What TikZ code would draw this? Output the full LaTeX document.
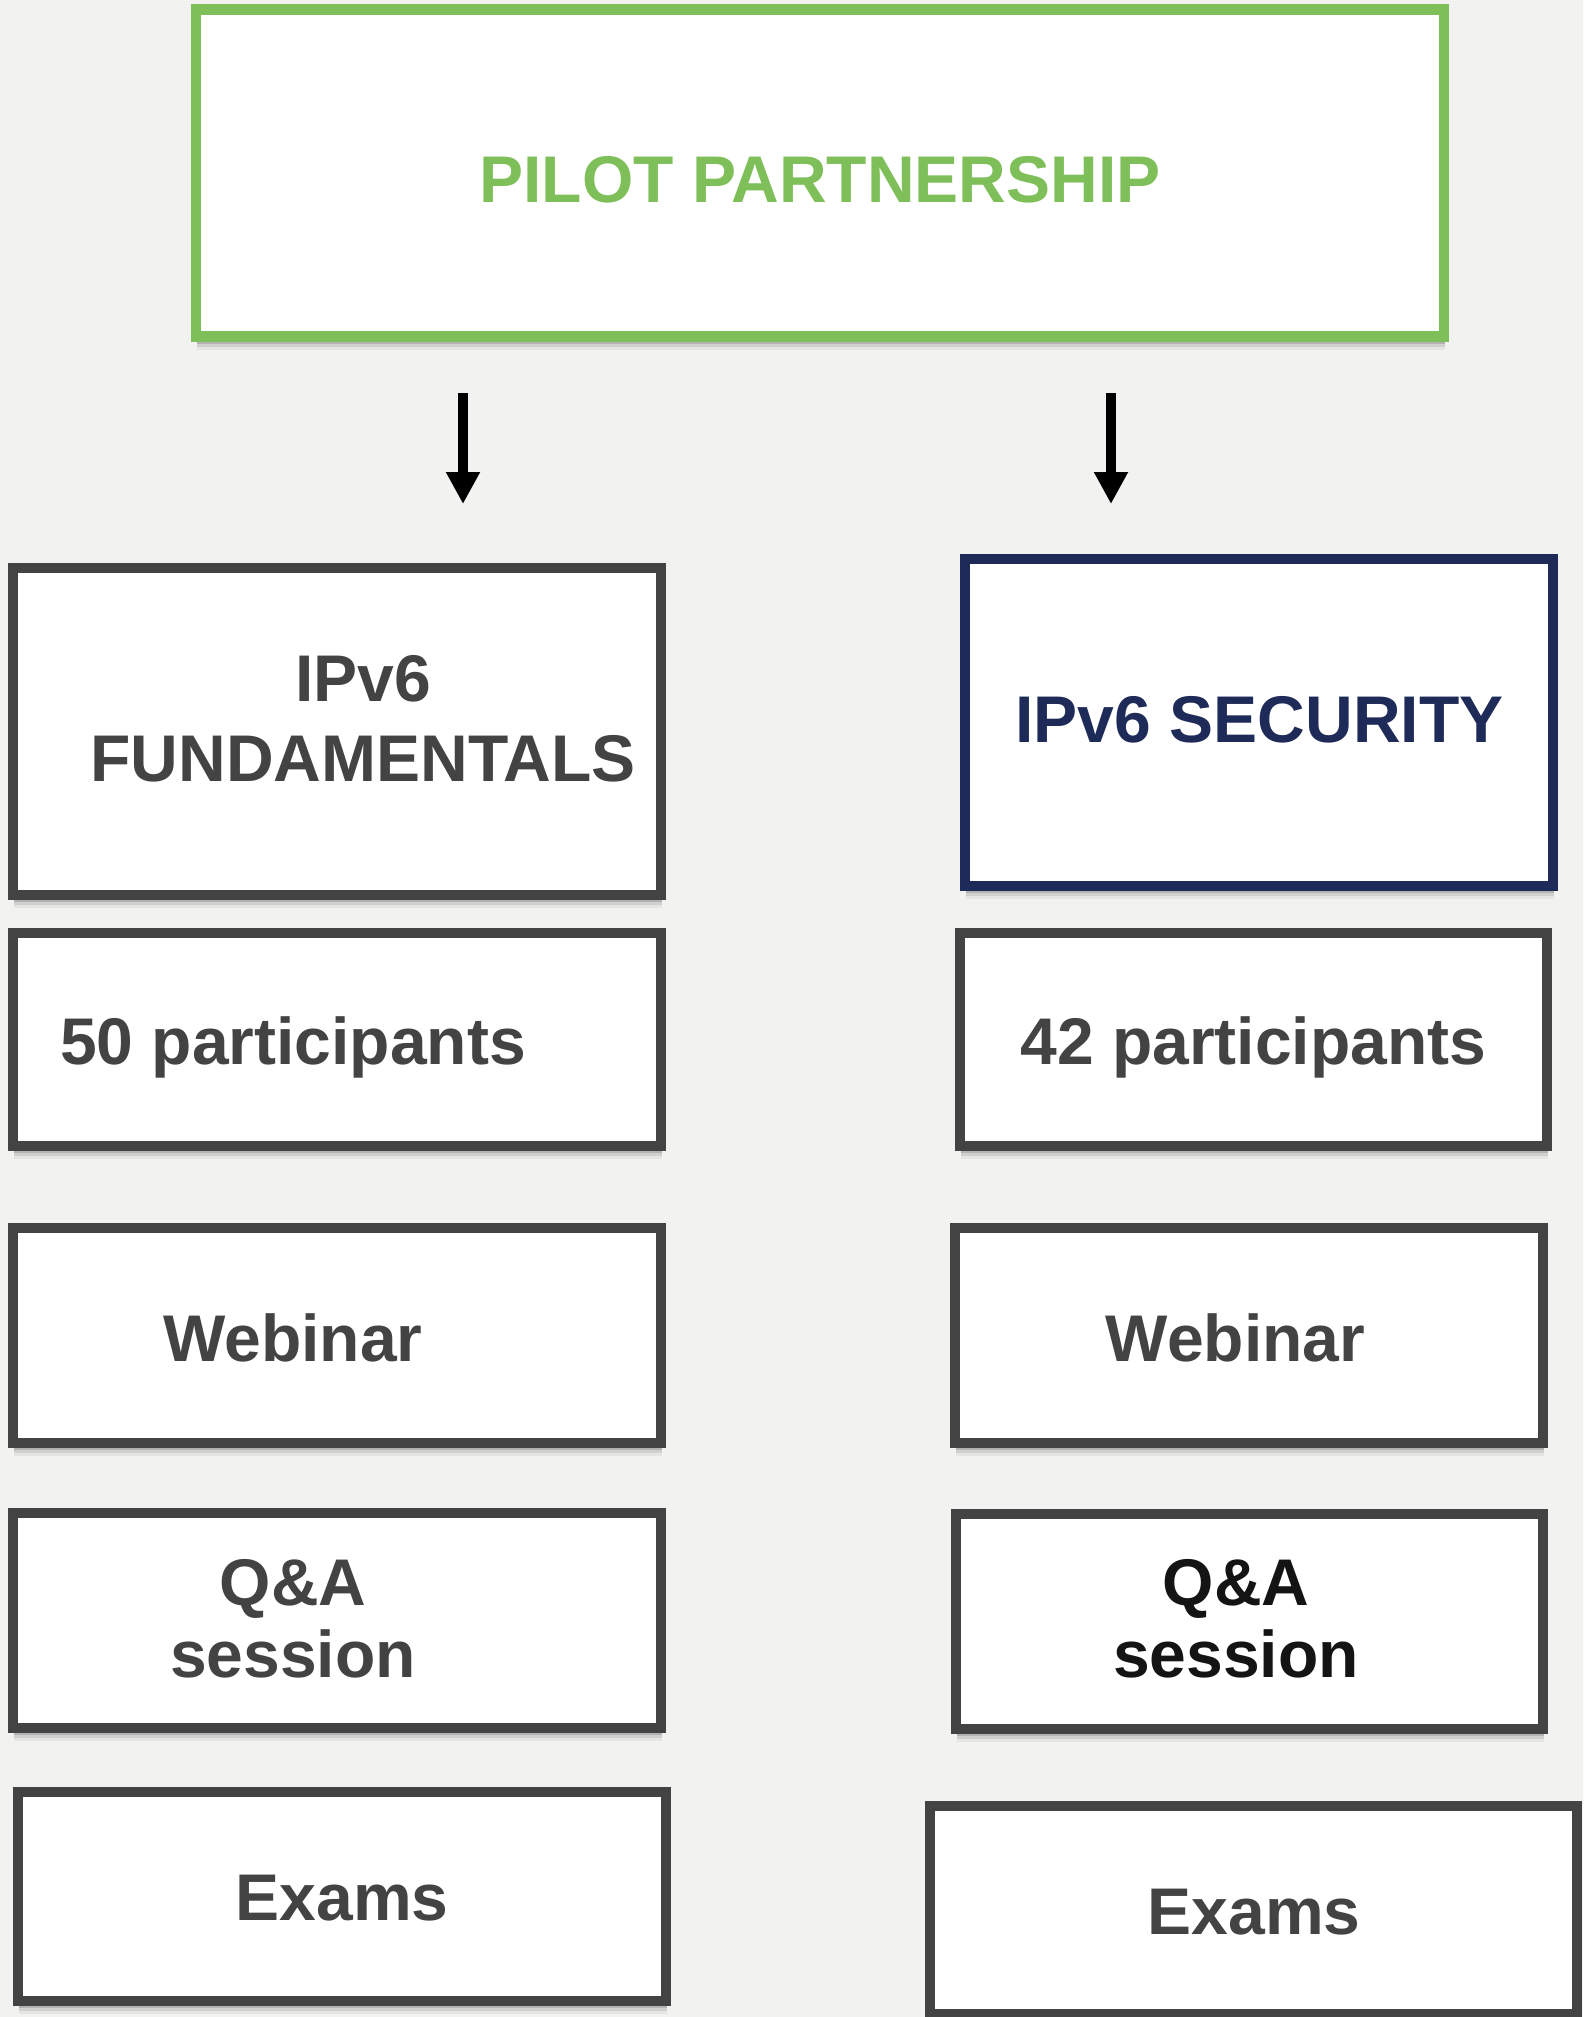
\documentclass[tikz,border=0pt]{standalone}
\usepackage{fontspec}
\setmainfont{Liberation Sans}
\usetikzlibrary{arrows.meta,shadows}
\definecolor{bgc}{HTML}{F2F2F0}
\definecolor{grn}{HTML}{7FBF59}
\definecolor{dg}{HTML}{434343}
\definecolor{navy}{HTML}{1E2A57}
\definecolor{blk}{HTML}{141414}
\begin{document}
\begin{tikzpicture}[x=1pt,y=-1pt,
  box/.style={draw=dg, fill=white, line width=10.5pt, rectangle, inner sep=0pt,
    drop shadow={shadow xshift=1pt, shadow yshift=-7pt, opacity=0.14, fill=black},
    drop shadow={shadow xshift=1pt, shadow yshift=-10pt, opacity=0.09, fill=black},
    drop shadow={shadow xshift=1pt, shadow yshift=-13pt, opacity=0.05, fill=black}},
  lbl/.style={font=\bfseries\fontsize{66}{80}\selectfont, text=dg, anchor=base, align=center, inner sep=0pt},
  arr/.style={line width=10pt, draw=black, -{Triangle[length=32pt,width=32pt]}}]
\useasboundingbox (0,0) rectangle (1583,2017);
\fill[bgc] (0,0) rectangle (1583,2017);

% boxes
\node[box, draw=grn, minimum width=1248pt, minimum height=327pt] (top) at (820,173) {};
\node[box, minimum width=648pt, minimum height=327pt] (fund) at (337,731.5) {};
\node[box, draw=navy, minimum width=588pt, minimum height=327pt] (sec) at (1259,722.5) {};
\node[box, minimum width=648pt, minimum height=213pt] (p50) at (337,1039.5) {};
\node[box, minimum width=587pt, minimum height=213pt] (p42) at (1253.5,1039.5) {};
\node[box, minimum width=648pt, minimum height=215pt] (web1) at (337,1335.5) {};
\node[box, minimum width=588pt, minimum height=215pt] (web2) at (1249,1335.5) {};
\node[box, minimum width=648pt, minimum height=215pt] (qa1) at (337,1620.5) {};
\node[box, minimum width=587pt, minimum height=215pt] (qa2) at (1249.5,1621.5) {};
\node[box, minimum width=648pt, minimum height=209pt] (ex1) at (342,1896.5) {};
\node[box, minimum width=647pt, minimum height=208pt] (ex2) at (1253.5,1910) {};

% texts (base anchor of a two-line node = baseline of its last line)
\node[lbl, text=grn] (toptxt) at (820,203) {PILOT PARTNERSHIP};
\node[lbl] (fundtxt) at (363,781) {IPv6\\FUNDAMENTALS};
\node[lbl, text=navy] (sectxt) at (1259.5,742) {IPv6 SECURITY};
\node[lbl] (p50txt) at (293,1064) {50 participants};
\node[lbl] (p42txt) at (1253.5,1064) {42 participants};
\node[lbl] (web1txt) at (293,1361.5) {Webinar};
\node[lbl] (web2txt) at (1235.5,1361) {Webinar};
\node[lbl, font=\bfseries\fontsize{66}{72}\selectfont] (qa1txt) at (293,1677) {Q\&A\\session};
\node[lbl, text=blk, font=\bfseries\fontsize{66}{72}\selectfont] (qa2txt) at (1236,1677) {Q\&A\\session};
\node[lbl] (ex1txt) at (342,1920.5) {Exams};
\node[lbl] (ex2txt) at (1254,1934) {Exams};

% arrows
\coordinate (a1s) at (463,393);
\coordinate (a1e) at (463,504);
\coordinate (a2s) at (1111,393);
\coordinate (a2e) at (1111,504);
\draw[arr] (a1s) -- (a1e);
\draw[arr] (a2s) -- (a2e);
\end{tikzpicture}
\end{document}
